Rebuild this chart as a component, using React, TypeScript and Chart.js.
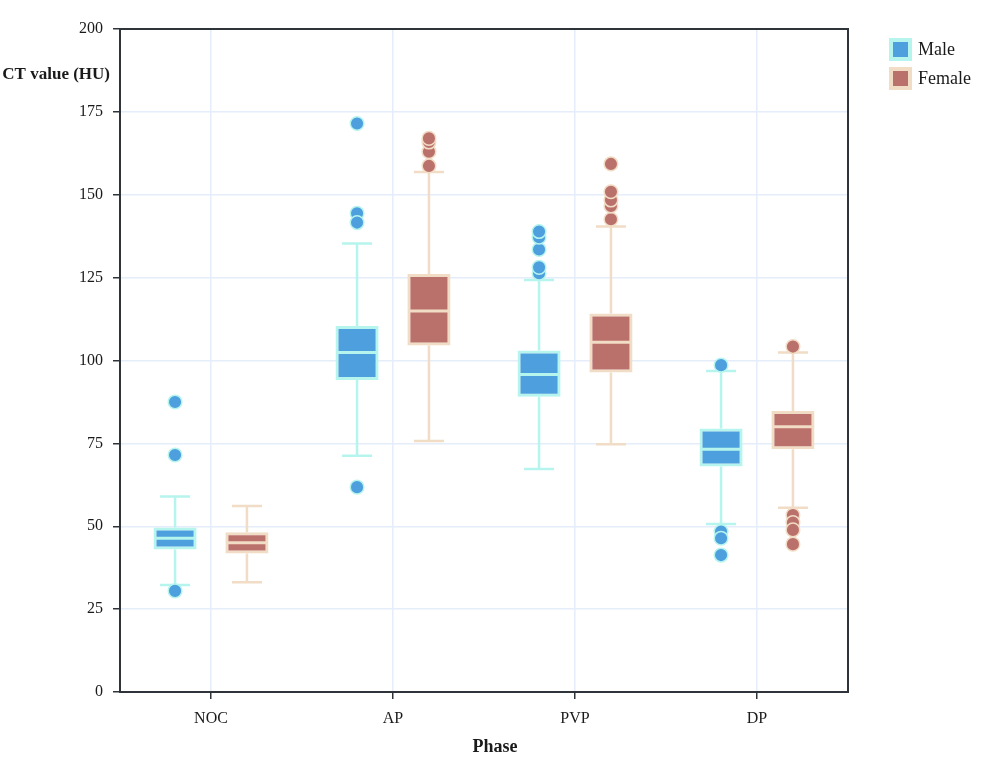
import React, { useEffect, useRef } from 'react';
import { Chart, registerables } from 'chart.js';

Chart.register(...registerables);

// ---------- data ----------
const categories = ['NOC', 'AP', 'PVP', 'DP'];
const seriesNames = ['Male', 'Female'];

const maleMin = [32.3, 71.3, 67.3, 50.7];
const maleQ1 = [43.0, 94.1, 89.1, 68.0];
const maleMedian = [46.4, 102.4, 95.8, 73.2];
const maleQ3 = [49.6, 110.4, 103.0, 79.5];
const maleMax = [59.0, 135.3, 124.3, 96.8];
const maleOutliers = [
  [87.5, 71.5, 30.5],
  [171.5, 144.4, 141.6, 61.8],
  [126.3, 128.1, 133.5, 137.2, 138.9],
  [98.6, 48.4, 46.4, 41.3],
];

const femaleMin = [33.1, 75.7, 74.7, 55.6];
const femaleQ1 = [41.8, 104.5, 96.4, 73.2];
const femaleMedian = [45.0, 114.9, 105.5, 80.0];
const femaleQ3 = [48.2, 126.1, 114.2, 84.8];
const femaleMax = [56.1, 156.9, 140.4, 102.4];
const femaleOutliers = [
  [],
  [158.7, 163.0, 165.9, 167.0],
  [142.6, 146.6, 148.4, 150.9, 159.3],
  [104.2, 53.4, 51.1, 48.9, 44.6],
];

const yMin = 0;
const yMax = 200;
const yStep = 25;
const yAxisLabel = 'CT value (HU)';
const xAxisLabel = 'Phase';

// ---------- styles ----------
const maleFill = '#4d9fdd';
const maleLine = '#b6f5ee';
const femaleFill = '#bb716b';
const femaleLine = '#f1dcc5';
const gridColor = '#e4edf9';
const axisColor = '#2e3439';
const textColor = '#1a1a1a';
const FONT = "'Liberation Serif', 'DejaVu Serif', serif";

type Stats = { min: number[]; median: number[]; max: number[]; outliers: number[][] };

const boxPlugin = {
  id: 'boxExtras',
  beforeDatasetsDraw(chart: any) {
    const ctx = chart.ctx;
    const ys = chart.scales.y;
    chart.data.datasets.forEach((ds: any, i: number) => {
      const meta = chart.getDatasetMeta(i);
      const st: Stats = ds.stats;
      meta.data.forEach((el: any, j: number) => {
        const x = el.x;
        const [q1, q3] = ds.data[j];
        const capHalf = 15;
        ctx.save();
        ctx.strokeStyle = ds.borderColor;
        ctx.lineWidth = 2.5;
        ctx.beginPath();
        ctx.moveTo(x, ys.getPixelForValue(q3));
        ctx.lineTo(x, ys.getPixelForValue(st.max[j]));
        ctx.moveTo(x - capHalf, ys.getPixelForValue(st.max[j]));
        ctx.lineTo(x + capHalf, ys.getPixelForValue(st.max[j]));
        ctx.moveTo(x, ys.getPixelForValue(q1));
        ctx.lineTo(x, ys.getPixelForValue(st.min[j]));
        ctx.moveTo(x - capHalf, ys.getPixelForValue(st.min[j]));
        ctx.lineTo(x + capHalf, ys.getPixelForValue(st.min[j]));
        ctx.stroke();
        ctx.restore();
      });
    });
  },
  afterDatasetsDraw(chart: any) {
    const ctx = chart.ctx;
    const ys = chart.scales.y;
    chart.data.datasets.forEach((ds: any, i: number) => {
      const meta = chart.getDatasetMeta(i);
      const st: Stats = ds.stats;
      meta.data.forEach((el: any, j: number) => {
        const x = el.x;
        const half = el.width / 2 - 2;
        const my = ys.getPixelForValue(st.median[j]);
        ctx.save();
        ctx.strokeStyle = ds.borderColor;
        ctx.lineWidth = 3;
        ctx.beginPath();
        ctx.moveTo(x - half, my);
        ctx.lineTo(x + half, my);
        ctx.stroke();
        st.outliers[j].forEach((v) => {
          ctx.beginPath();
          ctx.arc(x, ys.getPixelForValue(v), 6.8, 0, Math.PI * 2);
          ctx.fillStyle = ds.backgroundColor;
          ctx.fill();
          ctx.lineWidth = 1.5;
          ctx.strokeStyle = ds.borderColor;
          ctx.stroke();
        });
        ctx.restore();
      });
    });
  },
  afterDraw(chart: any) {
    const ctx = chart.ctx;
    const a = chart.chartArea;
    ctx.save();
    // frame
    ctx.strokeStyle = axisColor;
    ctx.lineWidth = 2;
    ctx.strokeRect(a.left, a.top, a.right - a.left, a.bottom - a.top);
    // y axis label (horizontal)
    ctx.fillStyle = textColor;
    ctx.font = `bold 17px ${FONT}`;
    ctx.textAlign = 'right';
    ctx.textBaseline = 'middle';
    ctx.fillText(yAxisLabel, 110, 75);
    // x axis label
    ctx.font = `bold 18px ${FONT}`;
    ctx.textAlign = 'center';
    ctx.fillText(xAxisLabel, 495, 747);
    // legend
    ctx.textAlign = 'left';
    ctx.font = `18px ${FONT}`;
    chart.data.datasets.forEach((ds: any, i: number) => {
      const bx = 889;
      const by = 38 + i * 29;
      ctx.fillStyle = ds.borderColor;
      ctx.fillRect(bx, by, 23, 23);
      ctx.fillStyle = ds.backgroundColor;
      ctx.fillRect(bx + 4, by + 4, 15, 15);
      ctx.fillStyle = textColor;
      ctx.fillText(ds.label, 918, by + 12.5);
    });
    ctx.restore();
  },
};

function makeDataset(label: string, fill: string, line: string, q1: number[], q3: number[], stats: Stats) {
  return {
    label,
    data: categories.map((_, j) => [q1[j], q3[j]]),
    backgroundColor: fill,
    borderColor: line,
    borderWidth: 3,
    borderSkipped: false,
    categoryPercentage: 0.79,
    barPercentage: 0.6,
    stats,
  };
}

export default function App() {
  const ref = useRef<HTMLCanvasElement>(null);
  useEffect(() => {
    if (!ref.current) return;
    const chart = new Chart(ref.current, {
      type: 'bar',
      data: {
        labels: categories,
        datasets: [
          makeDataset(seriesNames[0], maleFill, maleLine, maleQ1, maleQ3, {
            min: maleMin, median: maleMedian, max: maleMax, outliers: maleOutliers,
          }),
          makeDataset(seriesNames[1], femaleFill, femaleLine, femaleQ1, femaleQ3, {
            min: femaleMin, median: femaleMedian, max: femaleMax, outliers: femaleOutliers,
          }),
        ] as any,
      },
      options: {
        animation: false,
        responsive: true,
        maintainAspectRatio: false,
        layout: { padding: { top: 29, right: 152, left: 0, bottom: 0 } },
        plugins: {
          legend: { display: false },
          tooltip: { enabled: false },
        },
        scales: {
          x: {
            offset: true,
            grid: { offset: false, color: gridColor, tickColor: axisColor, tickLength: 7, lineWidth: 1.5 },
            border: { color: axisColor, width: 2 },
            ticks: { color: textColor, font: { family: FONT, size: 16 }, padding: 10 },
            afterFit(scale: any) { scale.height = 69; },
          },
          y: {
            min: yMin,
            max: yMax,
            ticks: { stepSize: yStep, color: textColor, font: { family: FONT, size: 16 }, padding: 10 },
            grid: { color: gridColor, tickColor: axisColor, tickLength: 7, lineWidth: 1.5 },
            border: { color: axisColor, width: 2 },
            afterFit(scale: any) { scale.width = 120; },
          },
        },
      } as any,
      plugins: [boxPlugin],
    });
    return () => chart.destroy();
  }, []);
  return (
    <div style={{ position: 'absolute', left: 0, top: 0, width: 1000, height: 761, background: '#fff' }}>
      <canvas ref={ref} />
    </div>
  );
}
